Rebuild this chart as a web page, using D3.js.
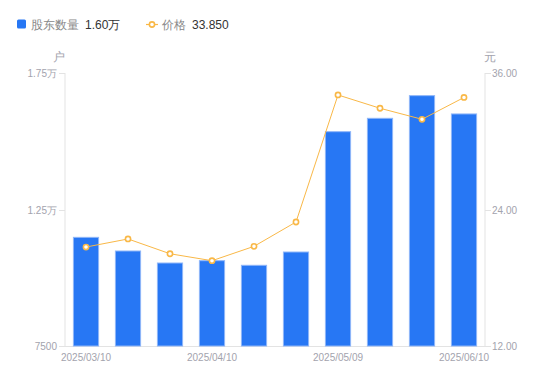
<!DOCTYPE html>
<html><head><meta charset="utf-8">
<script src="https://cdn.jsdelivr.net/npm/d3@7/dist/d3.min.js"></script>
<style>body{margin:0;background:#fff;font-family:"Liberation Sans",Arial,sans-serif;}</style>
</head><body><svg id="c" width="550" height="381"></svg>
<script>
const dates = ["2025/03/10","2025/03/20","2025/03/31","2025/04/10","2025/04/18","2025/04/30","2025/05/09","2025/05/20","2025/05/30","2025/06/10"];
const holders = [11480,10980,10540,10625,10456,10943,15350,15840,16670,16000];
const prices = [20.70,21.41,20.11,19.50,20.76,22.90,34.07,32.90,31.93,33.85];
const leftTicks = [7500,12500,17500];
const leftTickLabels = ["7500","1.25万","1.75万"];
const rightTicks = [12,24,36];
const xLabelIdx = [0,3,6,9];

const svg = d3.select("#c");
const L=65,R=485,T=73,B=346;
const x = d3.scaleBand().domain(dates).range([L,R]).paddingInner(0.4).paddingOuter(0.2);
const yL = d3.scaleLinear().domain([7500,17500]).range([B,T]);
const yR = d3.scaleLinear().domain([12,36]).range([B,T]);
const grey="#a3a3ad", axisC="#e3e3e3";

// axes lines
svg.append("line").attr("x1",L).attr("x2",L).attr("y1",T).attr("y2",B).attr("stroke",axisC);
svg.append("line").attr("x1",R).attr("x2",R).attr("y1",T).attr("y2",B).attr("stroke",axisC);
svg.append("line").attr("x1",L).attr("x2",R).attr("y1",B+0.5).attr("y2",B+0.5).attr("stroke",axisC);

leftTicks.forEach((t,i)=>{
  const y=Math.round(yL(t))+0.5;
  svg.append("line").attr("x1",L-6).attr("x2",L).attr("y1",y).attr("y2",y).attr("stroke",axisC);
  svg.append("text").attr("x",L-8).attr("y",y).attr("dy","0.35em").attr("text-anchor","end")
    .attr("font-size",10).attr("fill",grey).text(leftTickLabels[i]);
});
rightTicks.forEach(t=>{
  const y=Math.round(yR(t))+0.5;
  svg.append("line").attr("x1",R).attr("x2",R+6).attr("y1",y).attr("y2",y).attr("stroke",axisC);
  svg.append("text").attr("x",R+7).attr("y",y).attr("dy","0.35em").attr("text-anchor","start")
    .attr("font-size",10).attr("fill",grey).text(t.toFixed(2));
});
xLabelIdx.forEach(i=>{
  svg.append("text").attr("x",x(dates[i])+x.bandwidth()/2).attr("y",361).attr("text-anchor","middle")
    .attr("font-size",10).attr("fill",grey).text(dates[i]);
});
svg.append("text").attr("x",59).attr("y",61).attr("text-anchor","middle").attr("font-size",12).attr("fill",grey).text("户");
svg.append("text").attr("x",490).attr("y",61).attr("text-anchor","middle").attr("font-size",12).attr("fill",grey).text("元");

// bars
svg.selectAll("rect.bar").data(holders).join("rect").attr("class","bar")
  .attr("x",(d,i)=>x(dates[i])).attr("width",x.bandwidth())
  .attr("y",d=>yL(d)).attr("height",d=>B-yL(d))
  .attr("fill","#2777F4").attr("stroke","#8fb6f8").attr("stroke-width",1);

// line
const line = d3.line().x((d,i)=>x(dates[i])+x.bandwidth()/2).y(d=>yR(d));
svg.append("path").datum(prices).attr("d",line).attr("fill","none").attr("stroke","#F9B847").attr("stroke-width",1);
svg.selectAll("circle.pt").data(prices).join("circle").attr("class","pt")
  .attr("cx",(d,i)=>x(dates[i])+x.bandwidth()/2).attr("cy",d=>yR(d)).attr("r",2.6)
  .attr("fill","#fff").attr("stroke","#F9B847").attr("stroke-width",1.6);

// legend
svg.append("rect").attr("x",17).attr("y",19.5).attr("width",9).attr("height",9).attr("rx",1.5).attr("fill","#2777F4");
svg.append("text").attr("x",31).attr("y",29).attr("font-size",12).attr("fill","#888").text("股东数量");
svg.append("text").attr("x",85).attr("y",29).attr("font-size",12).attr("fill","#333").text((holders[holders.length-1]/10000).toFixed(2)+"万");
svg.append("line").attr("x1",146).attr("x2",158).attr("y1",24.5).attr("y2",24.5).attr("stroke","#F9B847").attr("stroke-width",1.2);
svg.append("circle").attr("cx",152).attr("cy",24.5).attr("r",2.6).attr("fill","#fff").attr("stroke","#F9B847").attr("stroke-width",1.6);
svg.append("text").attr("x",162).attr("y",29).attr("font-size",12).attr("fill","#888").text("价格");
svg.append("text").attr("x",192).attr("y",29).attr("font-size",12).attr("fill","#333").text(prices[prices.length-1].toFixed(3));
</script></body></html>
